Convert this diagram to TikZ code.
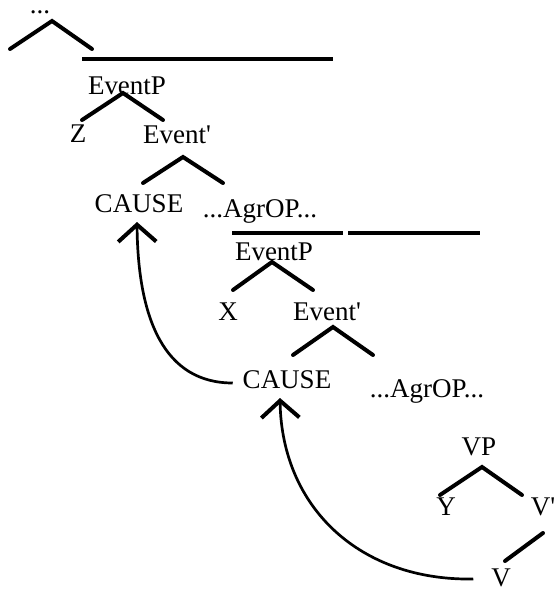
\documentclass[tikz,border=0pt]{standalone}
\usepackage{fontspec}
\setmainfont{Liberation Serif}
\usepackage{tikz}
\usetikzlibrary{arrows.meta,calc}

\tikzset{
  lbl/.style={anchor=base, inner sep=0pt, outer sep=0pt, text height=18pt, text depth=6pt, font=\fontsize{27}{31}\selectfont},
  branch/.style={line width=4pt, line cap=round},
  barline/.style={line width=3.2pt},
  movearrow/.style={line width=2.7pt, -{Straight Barb[length=17pt,width=38pt,line width=4pt]}},
}

\begin{document}
\begin{tikzpicture}[x=1pt,y=-1pt]
\useasboundingbox (0,0) rectangle (556,590);
% nodes
\node[lbl, text height=8pt, text depth=0pt] (dots) at (40,13) {...};%
\node[lbl] (ep1) at (127,94) {EventP};%
\node[lbl] (z) at (78,142) {Z};%
\node[lbl] (e1) at (177,143) {Event\textquotesingle};%
\node[lbl] (c1) at (139,212) {CAUSE};%
\node[lbl] (a1) at (260,217) {...AgrOP...};%
\node[lbl] (ep2) at (274,260) {EventP};%
\node[lbl] (x) at (228,320) {X};%
\node[lbl] (e2) at (327,320) {Event\textquotesingle};%
\node[lbl] (c2) at (287,388) {CAUSE};%
\node[lbl] (a2) at (427,397) {...AgrOP...};%
\node[lbl] (vp) at (479,455) {VP};%
\node[lbl] (y) at (446,515) {Y};%
\node[lbl] (vbar) at (543,515) {V\textquotesingle};%
\node[lbl, text depth=0pt] (v) at (501,586) {V};%

% branches
\coordinate (topl) at (10,49);
\coordinate (topr) at (92,49);
\draw[branch] (topl) -- ([shift={(12,8)}]dots.base) -- (topr);
\draw[branch] ([shift={(4,-4)}]z.north) -- ([shift={(-4,-1)}]ep1.base) -- ([shift={(-14,-5)}]e1.north);
\draw[branch] ([shift={(4,-11)}]c1.north) -- ([shift={(6,14)}]e1.base) -- ([shift={(-37,-16)}]a1.north);
\draw[branch] ([shift={(5,-12)}]x.north) -- ([shift={(-2,2)}]ep2.base) -- ([shift={(-14,-12)}]e2.north);
\draw[branch] ([shift={(6,-15)}]c2.north) -- ([shift={(6,7)}]e2.base) -- ([shift={(-54,-24)}]a2.north);
\draw[branch] ([shift={(-6,-2)}]y.north) -- ([shift={(3,12)}]vp.base) -- ([shift={(-21,-2)}]vbar.north);
\draw[branch] ([shift={(0,12)}]vbar.south) -- ([shift={(4,-7)}]v.north);

% bars
\draw[barline] (82,59) -- (333,59);
\draw[barline] (232,233) -- (343,233);
\draw[barline] (348,233) -- (480,233);

% movement
\draw[movearrow] ([shift={(-18,2)}]v.west) .. controls +(-113,2) and +(2,110) .. ([shift={(-7,4)}]c2.south);
\draw[movearrow] ([shift={(-10,1)}]c2.west) .. controls +(-68,0) and +(1,98) .. ([shift={(-2,4)}]c1.south);
\end{tikzpicture}
\end{document}
